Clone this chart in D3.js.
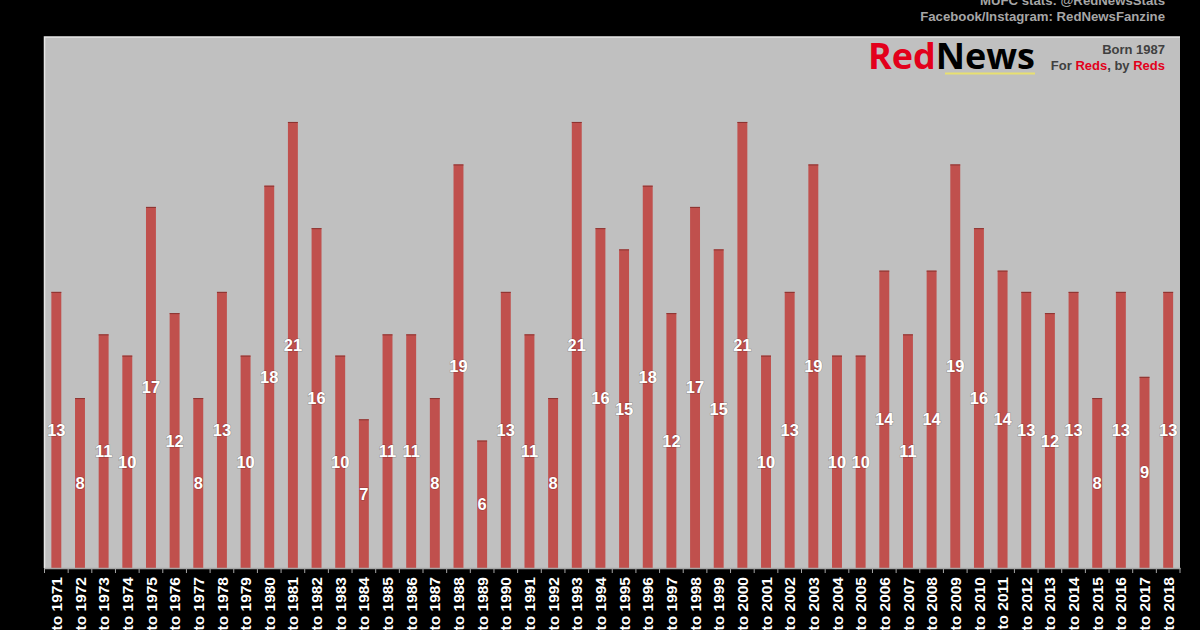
<!DOCTYPE html>
<html><head><meta charset="utf-8">
<script src="https://cdn.jsdelivr.net/npm/d3@7"></script>
<style>html,body{margin:0;padding:0;background:#000;}svg{display:block;}</style>
</head><body>
<svg id="c" width="1200" height="630"></svg>
<script>
const seasons = ["1970 to 1971","1971 to 1972","1972 to 1973","1973 to 1974","1974 to 1975","1975 to 1976","1976 to 1977","1977 to 1978","1978 to 1979","1979 to 1980","1980 to 1981","1981 to 1982","1982 to 1983","1983 to 1984","1984 to 1985","1985 to 1986","1986 to 1987","1987 to 1988","1988 to 1989","1989 to 1990","1990 to 1991","1991 to 1992","1992 to 1993","1993 to 1994","1994 to 1995","1995 to 1996","1996 to 1997","1997 to 1998","1998 to 1999","1999 to 2000","2000 to 2001","2001 to 2002","2002 to 2003","2003 to 2004","2004 to 2005","2005 to 2006","2006 to 2007","2007 to 2008","2008 to 2009","2009 to 2010","2010 to 2011","2011 to 2012","2012 to 2013","2013 to 2014","2014 to 2015","2015 to 2016","2016 to 2017","2017 to 2018"];
const values = [13,8,11,10,17,12,8,13,10,18,21,16,10,7,11,11,8,19,6,13,11,8,21,16,15,18,12,17,15,21,10,13,19,10,10,14,11,14,19,16,14,13,12,13,8,13,9,13];
const yMax = 25;
const creditLines = ["MUFC stats: @RedNewsStats","Facebook/Instagram: RedNewsFanzine"];

const svg = d3.select("#c");
const W = 1200, H = 630;
svg.append("rect").attr("width",W).attr("height",H).attr("fill","#000");
const m = {left:44.5, right:1180, top:37, bottom:568};

// plot area
svg.append("rect").attr("x",m.left).attr("y",m.top).attr("width",m.right-m.left).attr("height",m.bottom-m.top)
  .attr("fill","#c0c0c0");
svg.append("path").attr("d",`M${m.left},${m.bottom}V${m.top}H${m.right}`).attr("fill","none").attr("stroke","#e6e6e6").attr("stroke-width",1.5);

const x = d3.scaleBand().domain(seasons).range([m.left,m.right]).paddingInner(0.58).paddingOuter(0.29);
const y = d3.scaleLinear().domain([0,yMax]).range([m.bottom,m.top]);

svg.append("g").selectAll("rect").data(values).join("rect")
  .attr("x",(d,i)=>x(seasons[i])).attr("width",x.bandwidth())
  .attr("y",d=>y(d)).attr("height",d=>y(0)-y(d))
  .attr("fill","#c0504d");
svg.append("g").selectAll("line").data(values).join("line")
  .attr("x1",(d,i)=>x(seasons[i])).attr("x2",(d,i)=>x(seasons[i])+x.bandwidth())
  .attr("y1",d=>y(d)+0.5).attr("y2",d=>y(d)+0.5)
  .attr("stroke","#8a3330").attr("stroke-width",1);

// value labels
svg.append("g").selectAll("text").data(values).join("text")
  .attr("x",(d,i)=>x(seasons[i])+x.bandwidth()/2)
  .attr("y",d=>y(d/2))
  .attr("dy","0.36em")
  .attr("text-anchor","middle")
  .attr("font-family","Liberation Sans, Arial, sans-serif")
  .attr("font-weight","bold").attr("font-size",16.5)
  .attr("fill","#fff")
  .style("paint-order","stroke").attr("stroke","rgba(0,0,0,0.25)").attr("stroke-width",1.2)
  .text(d=>d);

// axis
const xAxis = d3.axisBottom(x).tickSize(0).tickSizeOuter(0);
const gx = svg.append("g").attr("transform",`translate(0,${m.bottom})`).call(xAxis);
gx.select(".domain").attr("stroke","#a6a6a6").attr("stroke-width",1.5);
gx.selectAll(".tick text")
  .attr("fill","#fff").attr("font-family","Liberation Sans, Arial, sans-serif")
  .attr("font-weight","bold").attr("font-size",15.5)
  .attr("text-anchor","end")
  .attr("transform","rotate(-90)")
  .attr("x",-9).attr("y",0).attr("dy","0.36em");
const bounds = d3.range(seasons.length+1).map(i=>m.left + i*(m.right-m.left)/seasons.length);
gx.append("g").selectAll("line").data(bounds).join("line")
  .attr("x1",d=>d).attr("x2",d=>d).attr("y1",0).attr("y2",5)
  .attr("stroke","#a6a6a6").attr("stroke-width",1);

// credits
svg.append("g").selectAll("text").data(creditLines).join("text")
  .attr("x",1165).attr("y",(d,i)=>5+i*16)
  .attr("text-anchor","end")
  .attr("font-family","Liberation Sans, Arial, sans-serif")
  .attr("font-weight","bold").attr("font-size",13.2)
  .attr("fill","#a6a6a6").text(d=>d);

// logo
const logo = svg.append("text").attr("x",868).attr("y",69)
  .attr("font-family","Open Sans, Roboto, sans-serif").attr("font-weight","700").attr("font-size",36)
  .attr("textLength",167).attr("lengthAdjust","spacingAndGlyphs");
logo.append("tspan").attr("fill","#e3001b").text("Red");
logo.append("tspan").attr("fill","#000").text("News");
svg.append("line").attr("x1",945).attr("x2",1035).attr("y1",73.5).attr("y2",73.5)
  .attr("stroke","#e8e070").attr("stroke-width",2);

svg.append("text").attr("x",1165).attr("y",54).attr("text-anchor","end")
  .attr("font-family","Liberation Sans, Arial, sans-serif").attr("font-weight","bold").attr("font-size",13)
  .attr("fill","#404040").text("Born 1987");
const tag = svg.append("text").attr("x",1165).attr("y",70).attr("text-anchor","end")
  .attr("font-family","Liberation Sans, Arial, sans-serif").attr("font-weight","bold").attr("font-size",13)
  .attr("fill","#404040");
tag.append("tspan").text("For ");
tag.append("tspan").attr("fill","#e3001b").text("Reds");
tag.append("tspan").text(", by ");
tag.append("tspan").attr("fill","#e3001b").text("Reds");
</script>
</body></html>
